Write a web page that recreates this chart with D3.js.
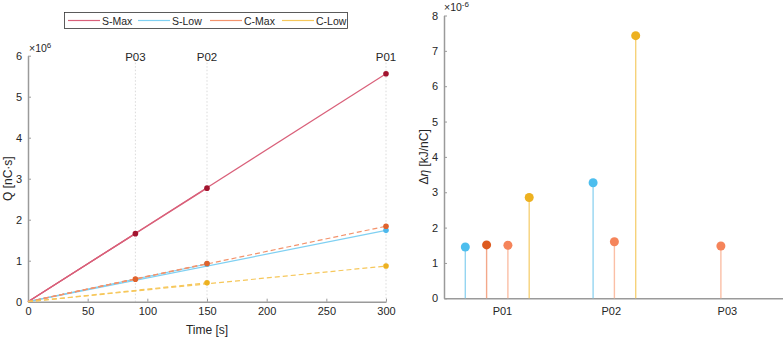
<!DOCTYPE html>
<html>
<head>
<meta charset="utf-8">
<script src="https://cdn.jsdelivr.net/npm/d3@7"></script>
<style>
  body { margin: 0; background: #fff; }
  svg { font-family: "Liberation Sans", Arial, sans-serif; }
  .tick text { fill: #262626; font-size: 11px; }
</style>
</head>
<body>
<svg id="chart" width="783" height="337"></svg>
<script>
// left plot: charge over time, one line from origin to each participant end point
const series = ["S-Max", "S-Low", "C-Max", "C-Low"];
const lineColor = ["#d9607a", "#7fd0f2", "#f3936c", "#f6c75a"];
const markColor = ["#a2142f", "#4db8ec", "#e0622c", "#edb120"];
const participants = ["P03", "P02", "P01"];
const partTime = [90, 150, 300];
// values in 1e6 nC·s, per series, per participant (P03, P02, P01); null = not measured
const qSMax = [1.66, 2.77, 5.56];
const qSLow = [null, 0.92, 1.74];
const qCMax = [0.55, 0.93, 1.84];
const qCLow = [null, 0.46, 0.87];
const qValues = [qSMax, qSLow, qCMax, qCLow];

// right plot: delta eta stems, in 1e-6 kJ/nC
const stemPos = [1, 2, 3, 4, 7, 8, 9, 13];
const stemSeries = [1, 0, 2, 3, 1, 2, 3, 2];
const stemValue = [1.45, 1.51, 1.50, 2.85, 3.27, 1.60, 7.43, 1.48];
const stemColor = ["#dd5a1f", "#4dbeee", "#f5845a", "#edb120"];
const stemLine = ["#f3a88a", "#95d5f1", "#fbbfa6", "#f6d27a"];
const groupLabels = ["P01", "P02", "P03"];
const groupPos = [2.72, 7.83, 13.28];

const svg = d3.select("#chart");
const axisGrey = "#9a9a9a";

// ---------- left plot ----------
const x1 = d3.scaleLinear().domain([0, 300]).range([28, 386]);
const y1 = d3.scaleLinear().domain([0, 6]).range([301.7, 55.7]);
const g1 = svg.append("g");

// participant guide lines
g1.selectAll(".guide")
  .data(partTime)
  .join("line")
  .attr("x1", d => x1(d)).attr("x2", d => x1(d))
  .attr("y1", y1(6)).attr("y2", y1(0))
  .attr("stroke", "#d0d0d0")
  .attr("stroke-width", 0.8)
  .attr("stroke-dasharray", "1.5,2");

g1.selectAll(".guideLabel")
  .data(participants)
  .join("text")
  .attr("x", (d, i) => x1(partTime[i]))
  .attr("y", 61)
  .attr("text-anchor", "middle")
  .attr("font-size", 11.5)
  .attr("fill", "#262626")
  .text(d => d);

// axes
const ax1 = d3.axisBottom(x1).tickValues([0, 50, 100, 150, 200, 250, 300]).tickSizeInner(-3).tickSizeOuter(0).tickPadding(6);
const ay1 = d3.axisLeft(y1).ticks(6).tickSizeInner(-3).tickSizeOuter(0).tickPadding(6);
g1.append("g").attr("class", "axis").attr("transform", `translate(0,${y1(0)})`).call(ax1);
g1.append("g").attr("class", "axis").attr("transform", `translate(${x1(0)},0)`).call(ay1);

// lines from origin, S solid, C dashed
series.forEach((s, si) => {
  qValues[si].forEach((v, pi) => {
    if (v === null) return;
    g1.append("line")
      .attr("x1", x1(0)).attr("y1", y1(0))
      .attr("x2", x1(partTime[pi])).attr("y2", y1(v))
      .attr("stroke", lineColor[si])
      .attr("stroke-width", 1.2)
      .attr("stroke-dasharray", si >= 2 ? "5,3" : null);
  });
});
series.forEach((s, si) => {
  g1.selectAll(".m" + si)
    .data(qValues[si].map((v, pi) => ({ v, t: partTime[pi] })).filter(d => d.v !== null))
    .join("circle")
    .attr("cx", d => x1(d.t))
    .attr("cy", d => y1(d.v))
    .attr("r", 2.8)
    .attr("fill", markColor[si]);
});

// exponent
const e1 = g1.append("text").attr("x", 29).attr("y", 52).attr("font-size", 10.5).attr("fill", "#262626");
e1.append("tspan").text("×10");
e1.append("tspan").attr("dy", -4).attr("font-size", 8).text("6");

g1.append("text")
  .attr("x", x1(150)).attr("y", 334)
  .attr("text-anchor", "middle").attr("font-size", 12).attr("fill", "#262626")
  .text("Time [s]");
g1.append("text")
  .attr("transform", `translate(12,${(y1(0) + y1(6)) / 2}) rotate(-90)`)
  .attr("text-anchor", "middle").attr("font-size", 12).attr("fill", "#262626")
  .text("Q [nC·s]");

// legend
const lg = svg.append("g");
lg.append("rect").attr("x", 64.5).attr("y", 12.5).attr("width", 283).attr("height", 16)
  .attr("fill", "#fff").attr("stroke", "#333").attr("stroke-width", 0.8);
const legendX = [68, 138, 210, 282];
series.forEach((s, i) => {
  lg.append("line").attr("x1", legendX[i]).attr("x2", legendX[i] + 32)
    .attr("y1", 20.5).attr("y2", 20.5).attr("stroke", lineColor[i]).attr("stroke-width", 1.2);
  lg.append("text").attr("x", legendX[i] + 34).attr("y", 24.5)
    .attr("font-size", 10.5).attr("fill", "#262626").text(s);
});

// ---------- right plot ----------
const x2 = d3.scaleLinear().domain([0, 16]).range([444, 784.8]);
const y2 = d3.scaleLinear().domain([0, 8]).range([298.3, 15.5]);
const g2 = svg.append("g");

const ax2 = d3.axisBottom(x2).tickValues(groupPos).tickFormat((d, i) => groupLabels[i]).tickSize(0).tickPadding(9);
const ay2 = d3.axisLeft(y2).ticks(8).tickSizeInner(-3).tickSizeOuter(0).tickPadding(6);
g2.append("g").attr("class", "axis").attr("transform", `translate(0,${y2(0)})`).call(ax2);
g2.append("g").attr("class", "axis").attr("transform", `translate(${x2(0)},0)`).call(ay2);

g2.selectAll(".stem")
  .data(stemValue)
  .join("line")
  .attr("x1", (d, i) => x2(stemPos[i])).attr("x2", (d, i) => x2(stemPos[i]))
  .attr("y1", y2(0)).attr("y2", d => y2(d))
  .attr("stroke", (d, i) => stemLine[stemSeries[i]])
  .attr("stroke-width", 1.4);
g2.selectAll(".dot")
  .data(stemValue)
  .join("circle")
  .attr("cx", (d, i) => x2(stemPos[i]))
  .attr("cy", d => y2(d))
  .attr("r", 4.5)
  .attr("fill", (d, i) => stemColor[stemSeries[i]]);

const e2 = g2.append("text").attr("x", 444).attr("y", 11).attr("font-size", 10.5).attr("fill", "#262626");
e2.append("tspan").text("×10");
e2.append("tspan").attr("dy", -4).attr("font-size", 8).text("-6");

const yl2 = g2.append("text")
  .attr("transform", `translate(428,${(y2(0) + y2(8)) / 2}) rotate(-90)`)
  .attr("text-anchor", "middle").attr("font-size", 12).attr("fill", "#262626");
yl2.append("tspan").text("Δ");
yl2.append("tspan").attr("font-style", "italic").text("η");
yl2.append("tspan").text(" [kJ/nC]");

// axis styling
svg.selectAll(".axis .domain").attr("stroke", axisGrey).attr("stroke-width", 1.5);
svg.selectAll(".axis .tick line").attr("stroke", axisGrey);
</script>
</body>
</html>
